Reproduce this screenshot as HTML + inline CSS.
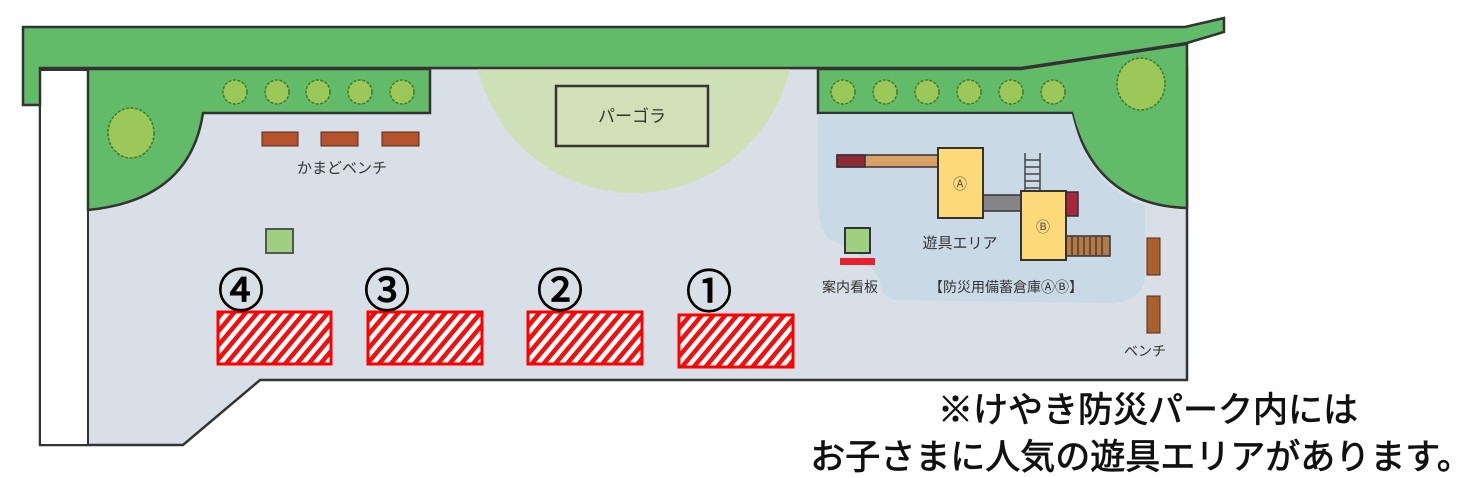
<!DOCTYPE html>
<html><head><meta charset="utf-8"><style>
html,body{margin:0;padding:0;background:#fff;}
svg{display:block}
text{font-family:"Liberation Sans","Noto Sans CJK JP",sans-serif;}
</style></head><body>
<svg width="1482" height="477" viewBox="0 0 1482 477" xmlns="http://www.w3.org/2000/svg">
<defs>
<pattern id="h" width="9" height="9" patternUnits="userSpaceOnUse" patternTransform="rotate(40)">
<rect width="9" height="9" fill="#fff"/><rect width="4.5" height="9" fill="#f01010"/>
</pattern>
<g id="t"><circle r="12" fill="#9cc85a" stroke="#3f7a2e" stroke-width="1.5" stroke-dasharray="3 1.5"/></g>
</defs>
<path d="M40 68 L1187 68 L1187 380 L260 380 L183 445 L40 445 Z" fill="#d9dfe6" stroke="#333" stroke-width="2.5"/>
<rect x="40" y="70" width="48" height="375" fill="#fff" stroke="#333" stroke-width="2"/>
<clipPath id="c"><rect x="88" y="69" width="1098" height="310"/></clipPath>
<circle cx="634" cy="33" r="160" fill="#cfdfb6" clip-path="url(#c)"/>
<path d="M23 27 L1185 27 L1224 18 L1224 32 L1187 43 L1021 68 L40 68 L40 105 L23 105 Z" fill="#62bb68" stroke="#333" stroke-width="2.5"/>
<path d="M88 69 L430 69 L430 113 L203 113 Q190 200 88 210 Z" fill="#62bb68" stroke="#333" stroke-width="2.5"/>
<path d="M818 69 L1021 69 L1187 44 L1187 208 Q1095 205 1072 113 L818 113 Z" fill="#62bb68" stroke="#333" stroke-width="2.5"/>
<path d="M818 114 L1072 114 Q1090 190 1145 205 L1145 280 Q1140 305 1100 303 L900 300 Q880 300 880 280 Q860 250 830 240 Q818 230 818 200 Z" fill="#c9d9e5"/>
<ellipse cx="131" cy="133" rx="23" ry="25" fill="#9cc85a" stroke="#3f7a2e" stroke-width="1.5" stroke-dasharray="3 1.5"/>
<ellipse cx="1141" cy="84" rx="24" ry="26" fill="#9cc85a" stroke="#3f7a2e" stroke-width="1.5" stroke-dasharray="3 1.5"/>
<use href="#t" x="235" y="92"/><use href="#t" x="277" y="92"/><use href="#t" x="318" y="92"/><use href="#t" x="360" y="92"/><use href="#t" x="402" y="92"/>
<use href="#t" x="843" y="92"/><use href="#t" x="885" y="92"/><use href="#t" x="927" y="92"/><use href="#t" x="969" y="92"/><use href="#t" x="1011" y="92"/><use href="#t" x="1053" y="92"/>
<g fill="#b4532e" stroke="#5a2a18" stroke-width="1">
<rect x="262" y="132" width="36" height="14"/><rect x="321" y="132" width="37" height="14"/><rect x="382" y="132" width="37" height="14"/>
<rect x="1147" y="238" width="13" height="37" fill="#a9622e"/><rect x="1147" y="296" width="13" height="37" fill="#a9622e"/>
</g>
<text x="342" y="173" font-size="15" text-anchor="middle" fill="#333">かまどベンチ</text>
<rect x="556" y="86" width="152" height="60" fill="#d2e0b8" stroke="#333" stroke-width="2.5"/>
<text x="632" y="122" font-size="17" text-anchor="middle" fill="#333">パーゴラ</text>
<rect x="266" y="229" width="27" height="24" fill="#9fd07f" stroke="#555" stroke-width="2"/>
<rect x="845" y="228" width="25" height="25" fill="#9fd07f" stroke="#333" stroke-width="2"/>
<rect x="840" y="258" width="35" height="7" fill="#e8212e"/>
<rect x="837" y="155" width="101" height="12" fill="#d8a067" stroke="#333" stroke-width="1.5"/>
<rect x="837" y="155" width="28" height="12" fill="#8e2b36" stroke="#333" stroke-width="1.5"/>
<rect x="983" y="195" width="39" height="16" fill="#848587" stroke="#333" stroke-width="1.5"/>
<g stroke="#444" stroke-width="1.5"><line x1="1025" y1="153" x2="1025" y2="192"/><line x1="1040" y1="153" x2="1040" y2="192"/>
<line x1="1025" y1="160" x2="1040" y2="160"/><line x1="1025" y1="167" x2="1040" y2="167"/><line x1="1025" y1="174" x2="1040" y2="174"/><line x1="1025" y1="181" x2="1040" y2="181"/><line x1="1025" y1="188" x2="1040" y2="188"/></g>
<rect x="1065" y="192" width="13" height="24" fill="#a8273a" stroke="#333" stroke-width="1.5"/>
<rect x="1066" y="236" width="44" height="20" fill="#b17b4e" stroke="#333" stroke-width="1.5"/>
<g stroke="#5a3a20" stroke-width="1.5"><line x1="1072" y1="237" x2="1072" y2="255"/><line x1="1078" y1="237" x2="1078" y2="255"/><line x1="1084" y1="237" x2="1084" y2="255"/><line x1="1090" y1="237" x2="1090" y2="255"/><line x1="1096" y1="237" x2="1096" y2="255"/><line x1="1102" y1="237" x2="1102" y2="255"/></g>
<rect x="938" y="148" width="45" height="70" fill="#fdd97a" stroke="#333" stroke-width="2"/>
<rect x="1021" y="191" width="45" height="69" fill="#fdd97a" stroke="#333" stroke-width="2"/>
<text x="960" y="189" font-size="14" text-anchor="middle" fill="#555">Ⓐ</text>
<text x="1043" y="232" font-size="14" text-anchor="middle" fill="#555">Ⓑ</text>
<text x="960" y="248" font-size="15" text-anchor="middle" fill="#333">遊具エリア</text>
<text x="850" y="292" font-size="14" text-anchor="middle" fill="#333">案内看板</text>
<text x="1006" y="292" font-size="14" text-anchor="middle" fill="#333">【防災用備蓄倉庫ⒶⒷ】</text>
<text x="1145" y="356" font-size="14" text-anchor="middle" fill="#333">ベンチ</text>
<g stroke="#f00" stroke-width="3" fill="url(#h)">
<rect x="218" y="312" width="113" height="52"/><rect x="368" y="312" width="114" height="52"/><rect x="528" y="312" width="114" height="52"/><rect x="679" y="315" width="114" height="52"/>
</g>
<g font-size="46" text-anchor="middle" fill="#000" stroke="#000" stroke-width="1.2">
<text x="241" y="307">④</text><text x="387" y="307">③</text><text x="560" y="307">②</text><text x="709" y="308">①</text>
</g>
<g fill="#111" stroke="#111" stroke-width="0.8" text-anchor="middle">
<text x="1148" y="422" font-size="35">※けやき防災パーク内には</text>
<text x="1141" y="469" font-size="35">お子さまに人気の遊具エリアがあります。</text>
</g>
</svg>
</body></html>
